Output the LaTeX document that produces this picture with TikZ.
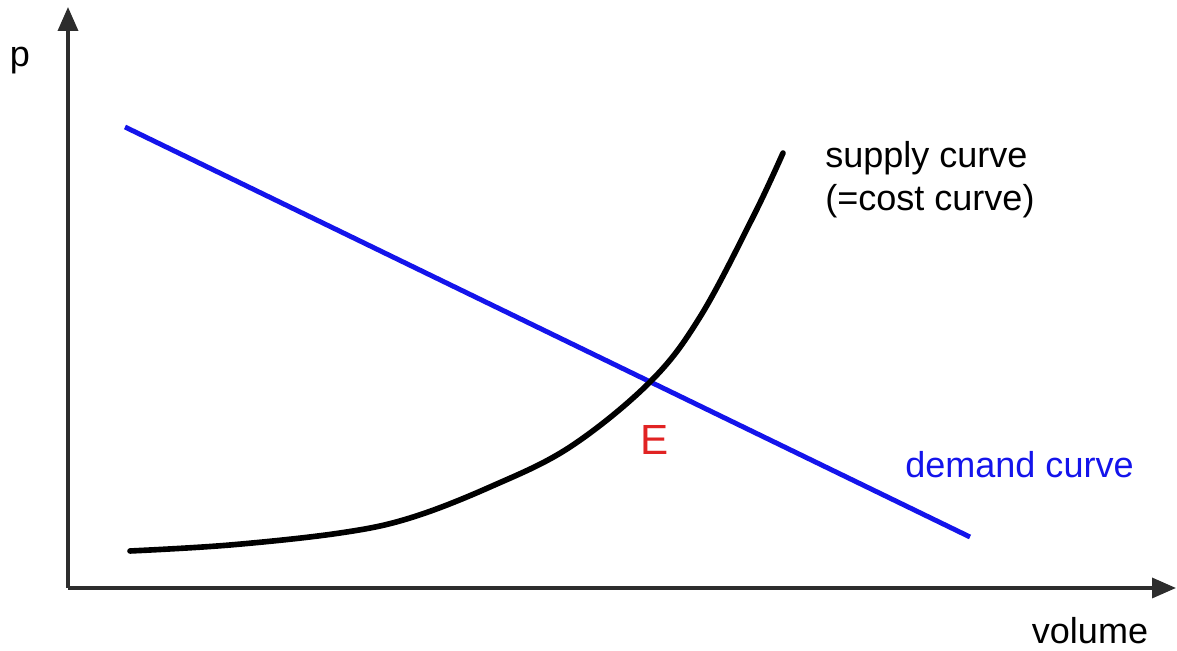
\documentclass[tikz,border=0pt]{standalone}
\usepackage{fontspec}
\setmainfont{Liberation Sans}
\usetikzlibrary{arrows.meta,positioning,calc}
\definecolor{demandblue}{RGB}{20,20,235}
\definecolor{eqred}{RGB}{225,35,35}
\definecolor{axisgray}{RGB}{45,45,45}

\begin{document}
\begin{tikzpicture}[
    axis/.style={draw=axisgray, line width=2pt,
                 -{Triangle[length=0.48cm, width=0.40cm]}},
    supply/.style={draw=black, line width=3.2pt, line cap=round},
    demand/.style={draw=demandblue, line width=2.8pt},
    lbl/.style={font=\fontsize{20.5}{24.5}\selectfont, inner sep=0pt},
]
\useasboundingbox (0,0) rectangle (23.54,13.02);

% axes
\coordinate (O)    at (1.36,1.26);
\coordinate (ytop) at (1.36,12.88);
\coordinate (xend) at (23.52,1.26);
\draw[axis] (O) -- (ytop);
\draw[axis] (O) -- (xend);

\node[lbl] (plbl) at (0.40,11.80) {p};
\node[lbl] (vollbl) at (21.80,0.40) {volume};

% demand curve
\coordinate (d1) at (2.50,10.48);
\coordinate (d2) at (19.40,2.28);
\draw[demand] (d1) -- (d2);

% supply curve
\draw[supply] plot[smooth, tension=0.6] coordinates {
    (2.60,2.00) (4.60,2.12) (6.80,2.36) (8.20,2.66) (9.80,3.28)
    (11.40,4.08) (13.00,5.38) (14.00,6.68) (15.06,8.68) (15.66,9.96)};

\node[lbl, eqred, font=\fontsize{24}{28}\selectfont] (E) at (13.10,4.22) {E};
\node[lbl, anchor=west, align=left] (suplbl) at (16.50,9.42)
    {supply curve\\(=cost curve)};
\node[lbl, anchor=west, demandblue] (demlbl) at (18.10,3.72) {demand curve};
\end{tikzpicture}
\end{document}
